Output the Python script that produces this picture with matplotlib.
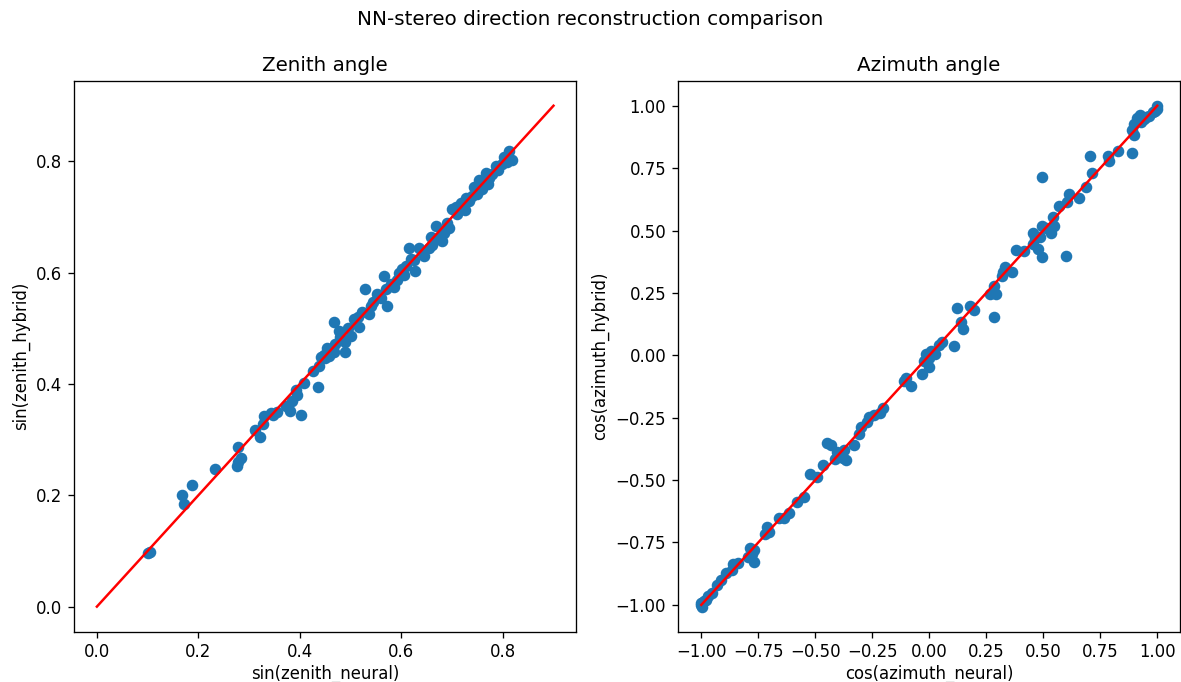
import matplotlib
matplotlib.use("Agg")
import matplotlib.pyplot as plt
import numpy as np

# Zenith panel data (sin of zenith angle)
zen_neural = [0.100, 0.104, 0.168, 0.172, 0.188, 0.233, 0.277, 0.279, 0.279, 0.284,
              0.312, 0.322, 0.327, 0.330, 0.343, 0.348, 0.355, 0.372, 0.380, 0.385,
              0.402, 0.392, 0.394, 0.409, 0.435, 0.425, 0.437, 0.441, 0.448, 0.454,
              0.460, 0.468, 0.468, 0.477, 0.479, 0.489, 0.490, 0.500, 0.507, 0.517,
              0.523, 0.529, 0.536, 0.540, 0.553, 0.560, 0.566, 0.572, 0.570, 0.579,
              0.592, 0.602, 0.605, 0.615, 0.620, 0.628, 0.625, 0.635, 0.645, 0.654,
              0.658, 0.668, 0.681, 0.684, 0.694, 0.700, 0.707, 0.717, 0.725, 0.733,
              0.740, 0.743, 0.753, 0.760, 0.766, 0.773, 0.779, 0.786, 0.798, 0.802,
              0.812, 0.818, 0.808, 0.790, 0.770, 0.750, 0.728, 0.710, 0.690, 0.672,
              0.660, 0.640, 0.610, 0.595, 0.585, 0.545, 0.515, 0.495, 0.470, 0.458,
              0.450]
zen_hybrid = [0.097, 0.099, 0.200, 0.185, 0.218, 0.248, 0.252, 0.286, 0.260, 0.267,
              0.318, 0.305, 0.329, 0.342, 0.347, 0.345, 0.350, 0.361, 0.352, 0.370,
              0.345, 0.390, 0.381, 0.401, 0.394, 0.423, 0.432, 0.448, 0.452, 0.464,
              0.460, 0.458, 0.511, 0.496, 0.484, 0.458, 0.475, 0.487, 0.516, 0.503,
              0.529, 0.570, 0.525, 0.540, 0.561, 0.555, 0.594, 0.541, 0.570, 0.580,
              0.586, 0.606, 0.595, 0.644, 0.625, 0.603, 0.622, 0.644, 0.630, 0.644,
              0.664, 0.683, 0.657, 0.672, 0.680, 0.715, 0.718, 0.725, 0.712, 0.728,
              0.738, 0.754, 0.767, 0.750, 0.779, 0.770, 0.777, 0.792, 0.795, 0.808,
              0.818, 0.802, 0.798, 0.785, 0.760, 0.742, 0.735, 0.705, 0.690, 0.662,
              0.650, 0.638, 0.612, 0.600, 0.575, 0.548, 0.520, 0.500, 0.472, 0.450,
              0.446]

# Azimuth panel data (cos of azimuth angle)
az_neural = [1.000, 0.990, 0.998, 0.964, 0.940, 0.924, 0.910, 0.900, 0.891, 0.900,
             0.930, 0.950, 0.980, 0.891, 0.830, 0.786, 0.790, 0.705, 0.713, 0.689,
             0.657, 0.611, 0.605, 0.600, 0.568, 0.543, 0.548, 0.535, 0.511, 0.494,
             0.494, 0.487, 0.494, 0.479, 0.454, 0.454, 0.462, 0.414, 0.382, 0.365,
             0.333, 0.325, 0.317, 0.284, 0.268, 0.292, 0.284, 0.195, 0.178, 0.122,
             0.138, 0.146, 0.109, 0.057, 0.041, 0.025, 0.009, -0.015, -0.023, -0.002,
             0.001, -0.032, -0.080, -0.104, -0.112, -0.201, -0.217, -0.241, -0.266, -0.274,
             -0.299, -0.307, -0.331, -0.372, -0.380, -0.364, -0.405, -0.412, -0.449, -0.430,
             -0.464, -0.493, -0.522, -0.550, -0.582, -0.614, -0.639, -0.658, -0.712, -0.720,
             -0.704, -0.768, -0.777, -0.768, -0.793, -0.785, -0.841, -0.862, -0.865, -0.890,
             -0.914, -0.930, -0.955, -0.971, -0.979, -0.987, -0.995, -1.000, -1.003, -0.995]
az_hybrid = [1.000, 0.980, 0.985, 0.960, 0.946, 0.961, 0.950, 0.925, 0.904, 0.882,
             0.935, 0.955, 0.975, 0.811, 0.818, 0.797, 0.780, 0.797, 0.732, 0.675,
             0.632, 0.647, 0.615, 0.397, 0.597, 0.554, 0.518, 0.490, 0.511, 0.518,
             0.715, 0.475, 0.394, 0.425, 0.490, 0.445, 0.468, 0.418, 0.420, 0.333,
             0.354, 0.333, 0.319, 0.276, 0.247, 0.247, 0.154, 0.183, 0.197, 0.190,
             0.133, 0.104, 0.036, 0.054, 0.040, 0.004, 0.019, 0.004, -0.024, -0.010,
             -0.046, -0.074, -0.124, -0.089, -0.103, -0.210, -0.231, -0.238, -0.246, -0.267,
             -0.288, -0.317, -0.360, -0.381, -0.410, -0.421, -0.388, -0.417, -0.353, -0.360,
             -0.438, -0.488, -0.474, -0.567, -0.588, -0.631, -0.652, -0.652, -0.688, -0.717,
             -0.710, -0.781, -0.795, -0.828, -0.808, -0.771, -0.831, -0.838, -0.859, -0.874,
             -0.902, -0.922, -0.951, -0.965, -0.979, -0.986, -0.993, -1.000, -0.993, -1.007]

zen_line = [0.0, 0.9]
az_line = [-1.0, 1.0]

DPI = 119
fig, (ax1, ax2) = plt.subplots(1, 2, figsize=(1181 / DPI, 682 / DPI), dpi=DPI)
fig.subplots_adjust(left=0.0627, right=0.9992, bottom=0.0738, top=0.8817, wspace=0.202)
fig.suptitle("NN-stereo direction reconstruction comparison", y=0.985)

ax1.scatter(zen_neural, zen_hybrid)
ax1.plot(zen_line, zen_line, color="red")
ax1.set_title("Zenith angle")
ax1.set_xlabel("sin(zenith_neural)", labelpad=2)
ax1.set_ylabel("sin(zenith_hybrid)")

ax2.scatter(az_neural, az_hybrid)
ax2.plot(az_line, az_line, color="red")
ax2.set_title("Azimuth angle")
ax2.set_xlabel("cos(azimuth_neural)", labelpad=2)
ax2.set_ylabel("cos(azimuth_hybrid)")

fig.savefig("out.png", dpi=DPI)
